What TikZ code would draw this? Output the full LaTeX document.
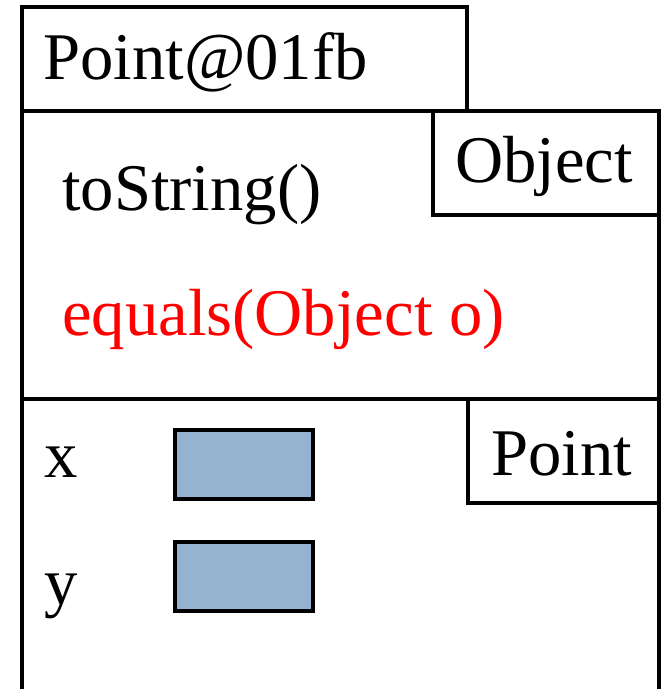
\documentclass[tikz,border=0pt]{standalone}
\usepackage{fontspec}
\setmainfont{Liberation Serif}
\usepackage{tikz}
\usetikzlibrary{positioning}
\usepackage{xcolor}
\definecolor{fieldblue}{RGB}{149,179,208}

\begin{document}
\begin{tikzpicture}[x=0.75pt, y=-0.75pt,
  frame/.style={draw=black, line width=2.5pt},
  txt/.style={anchor=base west, inner sep=0pt, font=\fontsize{50}{60}\selectfont},
  field/.style={draw=black, fill=fieldblue, line width=2.5pt}]
  \useasboundingbox (0,0) rectangle (663,689);
  % reference header and object body
  \draw[frame] (22,7) rectangle (467,111);
  \draw[frame] (22,700) -- (22,111) -- (659,111) -- (659,700);
  \draw[frame] (22,399) -- (659,399);
  \node[txt] (ref) at (43,79) {Point@01fb};
  % part inherited from Object
  \draw[frame] (433,111) rectangle (659,215);
  \node[txt] (objname) at (455,182) {Object};
  \node[txt] (tostr) at (62,210) {toString()};
  \node[txt, text=red] (eq) at (62,335) {equals(Object o)};
  % part declared in Point
  \draw[frame] (468,399) rectangle (659,503);
  \node[txt] (ptname) at (491,475) {Point};
  \node[txt] (xlab) at (44,477) {x};
  \node[txt] (ylab) at (44,604) {y};
  \draw[field] (175,430) rectangle (313,499);
  \draw[field] (175,542) rectangle (313,611);
\end{tikzpicture}
\end{document}
